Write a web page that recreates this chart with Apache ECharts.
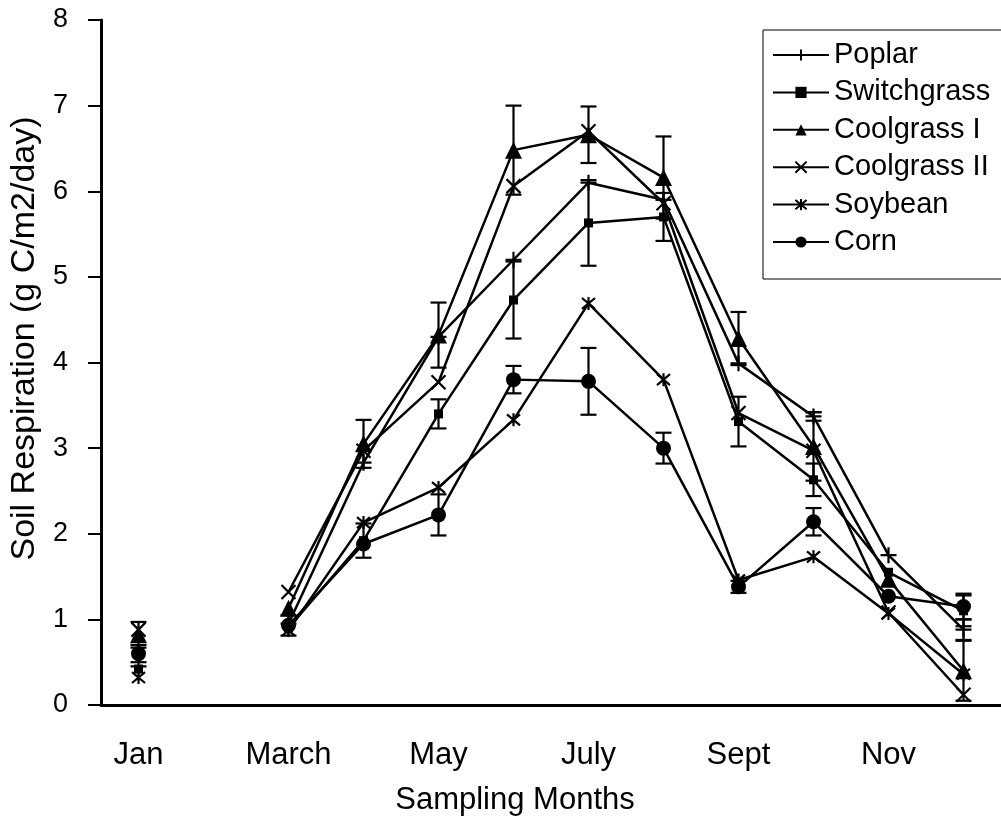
<!DOCTYPE html>
<html><head><meta charset="utf-8">
<script src="https://cdn.jsdelivr.net/npm/echarts@6/dist/echarts.min.js"></script>
<style>html,body{margin:0;padding:0;background:#fff}#c{width:1001px;height:829px}</style>
</head><body><div id="c"></div>
<script>
const months = ['Jan','Feb','March','April','May','June','July','Aug','Sept','Oct','Nov','Dec'];
const yTicks = [0,1,2,3,4,5,6,7,8];
const poplar      = [0.45, null, 0.95, 2.83, 4.30, 5.20, 6.10, 5.90, 3.99, 3.37, 1.75, 0.88];
const switchgrass = [0.42, null, 0.90, 1.92, 3.40, 4.73, 5.63, 5.70, 3.31, 2.63, 1.55, 1.10];
const coolgrass1  = [0.82, null, 1.13, 3.05, 4.32, 6.48, 6.66, 6.16, 4.28, 3.02, 1.47, 0.40];
const coolgrass2  = [0.88, null, 1.32, 2.97, 3.77, 6.06, 6.70, 5.86, 3.41, 2.97, 1.08, 0.12];
const soybean     = [0.32, null, 0.87, 2.13, 2.54, 3.33, 4.69, 3.80, 1.46, 1.73, 1.07, 0.36];
const corn        = [0.60, null, 0.93, 1.88, 2.22, 3.80, 3.78, 3.00, 1.38, 2.14, 1.27, 1.15];
// error bar half-widths (null = not visible)
const poplarErr      = [null, null, null, null, null, null, null, null, null, 0.05, null, 0.12];
const switchgrassErr = [null, null, null, 0.20, 0.17, 0.45, 0.50, 0.28, 0.29, 0.19, null, 0.18];
const coolgrass1Err  = [0.15, null, null, 0.28, 0.38, 0.52, 0.33, 0.48, 0.31, 0.40, null, 0.35];
const cornErr        = [0.10, null, 0.12, null, 0.24, 0.16, 0.39, 0.18, 0.07, 0.16, null, 0.15];

const FONT = 'Liberation Sans, Arial, sans-serif';
const P_PLUS = 'path://M5,0L5,10M0,5L10,5';
const P_X = 'path://M0,0L10,10M10,0L0,10';
const P_STAR = 'path://M0,0L10,10M10,0L0,10M5,-1L5,11';

function lineSeries(name, data, symbol, size, stroked) {
  return {
    name, type: 'line', data, symbol, symbolSize: size,
    connectNulls: false, z: 3,
    lineStyle: {color: '#000', width: 2.5},
    itemStyle: stroked ? {color: '#000', borderColor: '#000', borderWidth: 2.2}
                       : {color: '#000', borderColor: '#000', borderWidth: 0},
    emphasis: {disabled: true}
  };
}
function errSeries(vals, errs) {
  const d = [];
  vals.forEach((v, i) => { if (v != null && errs[i] != null) d.push([i, v, errs[i]]); });
  return {
    type: 'custom', data: d, z: 2, silent: true,
    renderItem: function (params, api) {
      const i = api.value(0), v = api.value(1), e = api.value(2);
      const hi = api.coord([i, v + e]), lo = api.coord([i, v - e]);
      const w = 8;
      const st = {stroke: '#000', lineWidth: 2.2, fill: null};
      return {type: 'group', children: [
        {type: 'line', shape: {x1: hi[0], y1: hi[1], x2: lo[0], y2: lo[1]}, style: st},
        {type: 'line', shape: {x1: hi[0]-w, y1: hi[1], x2: hi[0]+w, y2: hi[1]}, style: st},
        {type: 'line', shape: {x1: lo[0]-w, y1: lo[1], x2: lo[0]+w, y2: lo[1]}, style: st}
      ]};
    }
  };
}

const chart = echarts.init(document.getElementById('c'), null, {renderer: 'canvas'});
chart.setOption({
  backgroundColor: '#fff',
  animation: false,
  grid: {left: 101, right: -7, top: 20, bottom: 124},
  legend: {
    orient: 'vertical', left: 763, top: 30,
    backgroundColor: '#fff', borderColor: '#000', borderWidth: 1,
    padding: [10, 20, 22, 9],
    itemWidth: 56, itemHeight: 14, itemGap: 7.4,
    textStyle: {fontFamily: FONT, fontSize: 29, color: '#000', lineHeight: 30},
    data: ['Poplar','Switchgrass','Coolgrass I','Coolgrass II','Soybean','Corn']
  },
  xAxis: {
    type: 'category', data: months, boundaryGap: true,
    name: 'Sampling Months', nameLocation: 'middle', nameGap: 80,
    nameTextStyle: {fontFamily: FONT, fontSize: 31, color: '#000', padding: [0, 72, 0, 0]},
    axisLine: {lineStyle: {color: '#000', width: 3}},
    axisTick: {interval: 0, length: 10, lineStyle: {color: '#000', width: 2}},
    axisLabel: {interval: 1, fontFamily: FONT, fontSize: 31, color: '#000', margin: 35},
    splitLine: {show: false}
  },
  yAxis: {
    type: 'value', min: 0, max: 8, interval: 1,
    name: 'Soil Respiration (g C/m2/day)', nameLocation: 'middle', nameGap: 58,
    nameTextStyle: {fontFamily: FONT, fontSize: 34, color: '#000', padding: [0, 0, 0, 48]},
    axisLine: {show: true, lineStyle: {color: '#000', width: 3}},
    axisTick: {show: true, length: 13, lineStyle: {color: '#000', width: 2}},
    axisLabel: {fontFamily: FONT, fontSize: 27, color: '#000', margin: 33,
      formatter: v => yTicks.includes(v) ? String(v) : ''},
    splitLine: {show: false}
  },
  series: [
    lineSeries('Poplar', poplar, P_PLUS, 16, true),
    lineSeries('Switchgrass', switchgrass, 'rect', 9, false),
    lineSeries('Coolgrass I', coolgrass1, 'triangle', 17, false),
    lineSeries('Coolgrass II', coolgrass2, P_X, 14, true),
    lineSeries('Soybean', soybean, P_STAR, 13, true),
    lineSeries('Corn', corn, 'circle', 15, false),
    errSeries(poplar, poplarErr),
    errSeries(switchgrass, switchgrassErr),
    errSeries(coolgrass1, coolgrass1Err),
    errSeries(corn, cornErr)
  ]
});
</script></body></html>
